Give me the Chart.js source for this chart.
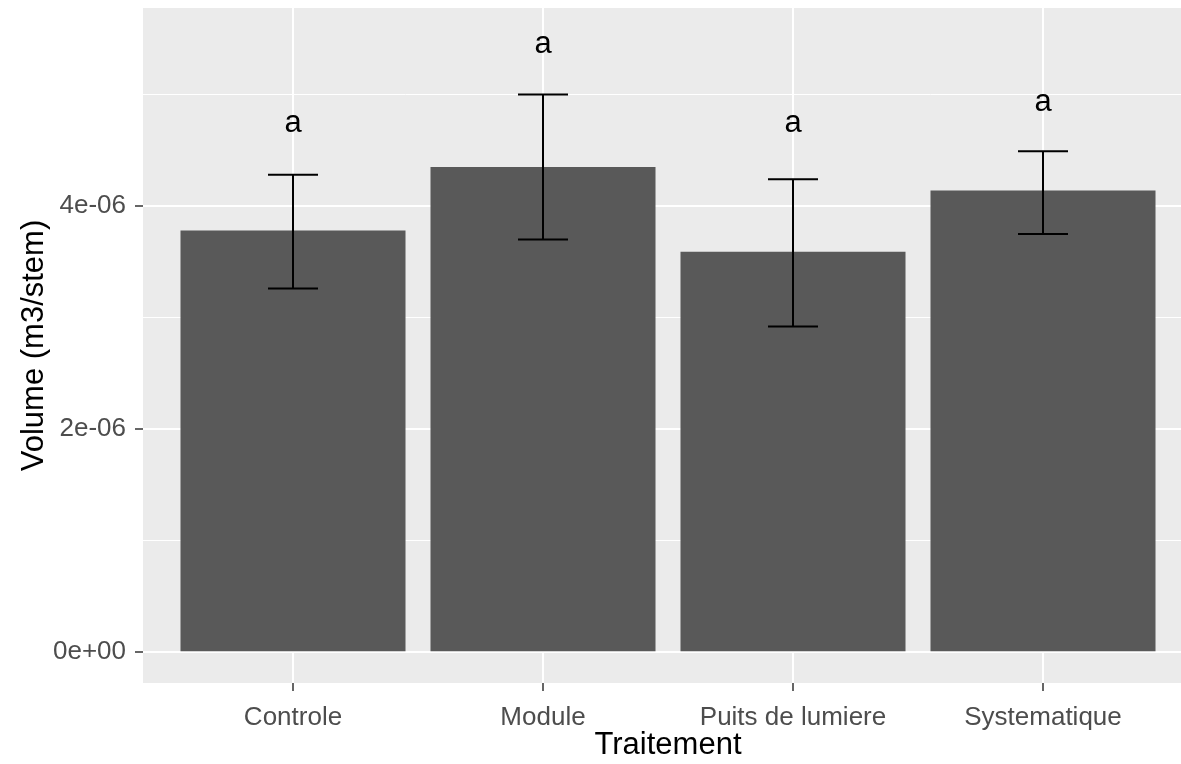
<!DOCTYPE html>
<html>
<head>
<meta charset="utf-8">
<script src="https://cdn.jsdelivr.net/npm/chart.js@4.4.1/dist/chart.umd.min.js"></script>
<style>
  html, body { margin: 0; padding: 0; background: #ffffff; overflow: hidden; }
</style>
</head>
<body>
<canvas id="volumeChart" width="1193" height="764"></canvas>
<script>
// values
const treatments = ['Controle', 'Module', 'Puits de lumiere', 'Systematique'];
const meanVolume = [3.78e-6, 4.35e-6, 3.59e-6, 4.14e-6];
const errorLow = [3.26e-6, 3.70e-6, 2.92e-6, 3.75e-6];
const errorHigh = [4.28e-6, 5.00e-6, 4.24e-6, 4.49e-6];
const groupLetters = ['a', 'a', 'a', 'a'];
const letterY = [4.74e-6, 5.45e-6, 4.74e-6, 4.93e-6];
const yTickValues = [0, 2e-6, 4e-6];
const yTickLabels = ['0e+00', '2e-06', '4e-06'];
const yMinorValues = [1e-6, 3e-6, 5e-6];

const FONT = '"Liberation Sans", Arial, sans-serif';

function isMajorY(value) {
    return yTickValues.indexOf(value) !== -1;
}

// no extra room for half labels, the panel edges are fixed by layout padding
function noScalePadding(scale) {
    scale.paddingTop = 0;
    scale.paddingBottom = 0;
    scale.paddingLeft = 0;
    scale.paddingRight = 0;
}

const panelPlugin = {
    id: 'panel',
    beforeDraw(chart) {
        const { ctx, chartArea } = chart;
        ctx.save();
        ctx.fillStyle = '#EBEBEB';
        ctx.fillRect(chartArea.left, chartArea.top, chartArea.right - chartArea.left, chartArea.bottom - chartArea.top);
        ctx.restore();
    },
    afterDatasetsDraw(chart) {
        const { ctx } = chart;
        const x = chart.scales.x;
        const y = chart.scales.y;
        ctx.save();
        ctx.strokeStyle = '#000000';
        ctx.lineWidth = 2;
        for (let i = 0; i < treatments.length; i++) {
            const cx = x.getPixelForValue(i);
            const left = x.getPixelForValue(i - 0.1);
            const right = x.getPixelForValue(i + 0.1);
            const top = y.getPixelForValue(errorHigh[i]);
            const bottom = y.getPixelForValue(errorLow[i]);
            ctx.beginPath();
            ctx.moveTo(cx, top);
            ctx.lineTo(cx, bottom);
            ctx.moveTo(left, top);
            ctx.lineTo(right, top);
            ctx.moveTo(left, bottom);
            ctx.lineTo(right, bottom);
            ctx.stroke();
        }
        ctx.fillStyle = '#000000';
        ctx.font = '31px ' + FONT;
        ctx.textAlign = 'center';
        ctx.textBaseline = 'middle';
        for (let i = 0; i < treatments.length; i++) {
            ctx.fillText(groupLetters[i], x.getPixelForValue(i), y.getPixelForValue(letterY[i]));
        }
        ctx.restore();
    }
};

new Chart(document.getElementById('volumeChart'), {
    type: 'bar',
    data: {
        datasets: [{
            data: meanVolume.map((v, i) => ({ x: i, y: v })),
            backgroundColor: '#595959',
            borderWidth: 0,
            barPercentage: 0.9,
            categoryPercentage: 1
        }]
    },
    options: {
        responsive: false,
        animation: false,
        devicePixelRatio: 1,
        layout: { padding: { top: 8, left: 0, right: 0, bottom: 0 } },
        plugins: {
            legend: { display: false },
            tooltip: { enabled: false }
        },
        scales: {
            x: {
                type: 'linear',
                min: -0.6,
                max: 3.6,
                offset: false,
                afterBuildTicks: scale => { scale.ticks = treatments.map((t, i) => ({ value: i })); },
                afterFit: scale => { scale.height = 81; noScalePadding(scale); },
                border: { display: false },
                grid: {
                    offset: false,
                    color: '#ffffff',
                    lineWidth: 2,
                    tickLength: 8,
                    tickColor: '#333333',
                    tickWidth: 1.5
                },
                ticks: {
                    color: '#4D4D4D',
                    font: { family: FONT, size: 26 },
                    padding: 11,
                    maxRotation: 0,
                    callback: value => treatments[value]
                },
                title: {
                    display: true,
                    text: 'Traitement',
                    color: '#000000',
                    font: { family: FONT, size: 31 },
                    padding: { top: 0, bottom: 0 }
                }
            },
            y: {
                min: -0.275e-6,
                max: 5.775e-6,
                afterBuildTicks: scale => {
                    scale.ticks = yTickValues.concat(yMinorValues).sort((a, b) => a - b).map(v => ({ value: v }));
                },
                afterFit: scale => { scale.width = 143; noScalePadding(scale); },
                border: { display: false },
                grid: {
                    color: '#ffffff',
                    lineWidth: c => (c.tick && isMajorY(c.tick.value)) ? 2 : 1,
                    tickLength: 8,
                    tickColor: c => (c.tick && isMajorY(c.tick.value)) ? '#333333' : 'rgba(0,0,0,0)',
                    tickWidth: 1.5
                },
                ticks: {
                    color: '#4D4D4D',
                    font: { family: FONT, size: 26 },
                    padding: 9,
                    callback: value => {
                        const k = yTickValues.indexOf(value);
                        return k === -1 ? '' : yTickLabels[k];
                    }
                },
                title: {
                    display: true,
                    text: 'Volume (m3/stem)',
                    color: '#000000',
                    font: { family: FONT, size: 31 },
                    padding: { top: 16, bottom: 0 }
                }
            }
        }
    },
    plugins: [panelPlugin]
});
</script>
</body>
</html>
